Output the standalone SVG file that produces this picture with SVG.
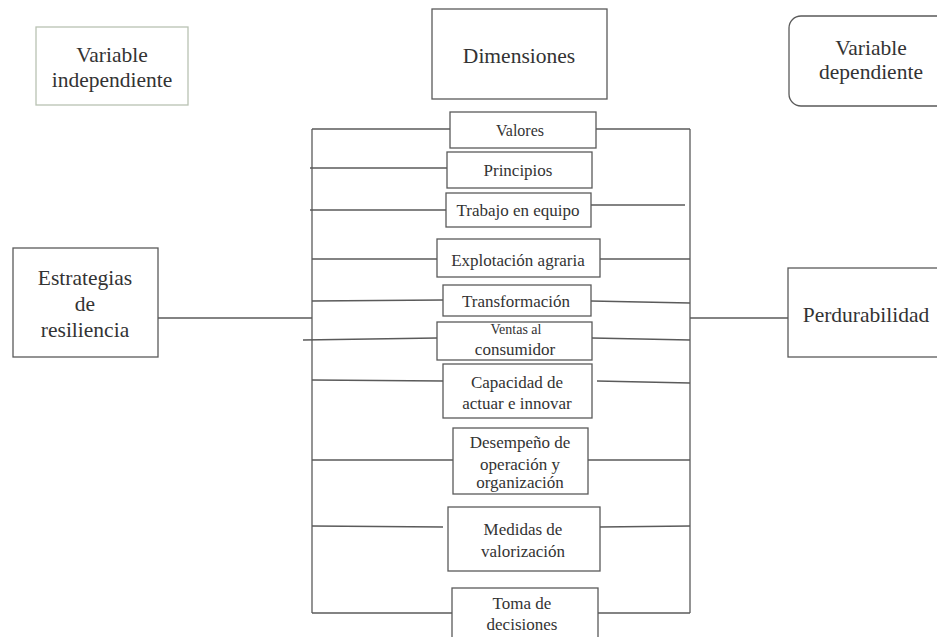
<svg xmlns="http://www.w3.org/2000/svg" width="937" height="637" viewBox="0 0 937 637">
<style>
.b{fill:#fff;stroke:#5a5a5a;stroke-width:1.3}
.g{fill:#fff;stroke:#b9c2b3;stroke-width:1.3}
.c line{stroke:#5a5a5a;stroke-width:1.3}
text{font-family:'Liberation Serif','DejaVu Serif',serif;fill:#333;text-anchor:middle}
.L{font-size:21.5px}
.S{font-size:17px}
</style>
<rect width="937" height="637" fill="#fff"/>
<g id="connectors" class="c">
<line x1="312" y1="129" x2="312" y2="613"/>
<line x1="690" y1="129" x2="690" y2="613"/>
<line x1="158" y1="318" x2="312" y2="318"/>
<line x1="690" y1="318" x2="788" y2="318"/>
<line x1="312" y1="129" x2="450" y2="129"/>
<line x1="596" y1="129" x2="690" y2="129"/>
<line x1="310" y1="168" x2="447" y2="168"/>
<line x1="310" y1="210" x2="446" y2="210"/>
<line x1="591" y1="205" x2="685" y2="205"/>
<line x1="312" y1="259" x2="437" y2="259"/>
<line x1="600" y1="259" x2="690" y2="259"/>
<line x1="312" y1="301" x2="443" y2="300"/>
<line x1="591" y1="301" x2="690" y2="303"/>
<line x1="303" y1="340" x2="437" y2="338"/>
<line x1="592" y1="338" x2="690" y2="340"/>
<line x1="312" y1="380" x2="443" y2="381"/>
<line x1="597" y1="381" x2="690" y2="383"/>
<line x1="312" y1="460" x2="453" y2="460"/>
<line x1="588" y1="460" x2="690" y2="460"/>
<line x1="312" y1="526" x2="443" y2="527"/>
<line x1="600" y1="527" x2="690" y2="526"/>
<line x1="312" y1="613" x2="452" y2="613"/>
<line x1="598" y1="613" x2="690" y2="613"/>
</g>
<g id="var-indep"><rect class="g" x="36" y="27" width="152" height="78"/><text class="L" x="112" y="62">Variable</text><text class="L" x="112" y="87">independiente</text></g>
<g id="dimensiones"><rect class="b" x="432" y="9" width="175" height="90"/><text class="L" x="519" y="63">Dimensiones</text></g>
<g id="var-dep"><rect class="b" x="789" y="16" width="170" height="90" rx="12"/><text class="L" x="871" y="55">Variable</text><text class="L" x="871" y="79">dependiente</text></g>
<g id="estrategias"><rect class="b" x="13" y="248" width="145" height="109"/><text class="L" x="85" y="285">Estrategias</text><text class="L" x="85" y="311">de</text><text class="L" x="85" y="337">resiliencia</text></g>
<g id="perdurabilidad"><rect class="b" x="788" y="268" width="170" height="89"/><text class="L" x="866" y="322">Perdurabilidad</text></g>
<g id="valores"><rect class="b" x="450" y="112" width="146" height="36"/><text x="520" y="136" style="font-size:16px">Valores</text></g>
<g id="principios"><rect class="b" x="447" y="152" width="145" height="36"/><text class="S" x="518" y="176">Principios</text></g>
<g id="trabajo"><rect class="b" x="446" y="193" width="145" height="34"/><text class="S" x="518" y="216">Trabajo en equipo</text></g>
<g id="explotacion"><rect class="b" x="437" y="239" width="163" height="38"/><text class="S" x="518" y="266">Explotación agraria</text></g>
<g id="transformacion"><rect class="b" x="443" y="285" width="148" height="31"/><text class="S" x="516" y="307">Transformación</text></g>
<g id="ventas"><rect class="b" x="437" y="322" width="155" height="38"/><text x="516" y="334" style="font-size:14px">Ventas al</text><text class="S" x="515" y="355">consumidor</text></g>
<g id="capacidad"><rect class="b" x="443" y="364" width="149" height="54"/><text class="S" x="517" y="388">Capacidad de</text><text class="S" x="517" y="409">actuar e innovar</text></g>
<g id="desempeno"><rect class="b" x="453" y="428" width="135" height="66"/><text class="S" x="520" y="448">Desempeño de</text><text class="S" x="520" y="470">operación y</text><text class="S" x="520" y="488">organización</text></g>
<g id="medidas"><rect class="b" x="448" y="507" width="152" height="64"/><text class="S" x="523" y="535">Medidas de</text><text class="S" x="523" y="557">valorización</text></g>
<g id="toma"><rect class="b" x="452" y="588" width="146" height="60"/><text class="S" x="522" y="609">Toma de</text><text class="S" x="522" y="630">decisiones</text></g>
</svg>
